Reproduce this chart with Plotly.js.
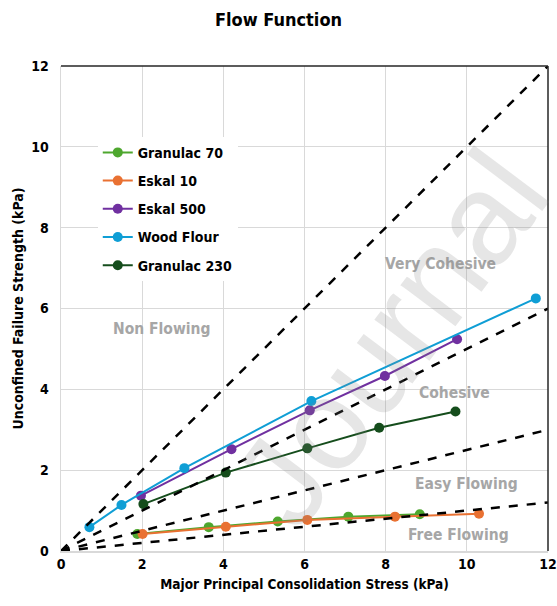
<!DOCTYPE html>
<html><head><meta charset="utf-8">
<script src="https://cdn.plot.ly/plotly-3.0.1.min.js"></script>
<style>html,body{margin:0;padding:0;background:#fff}#chart{width:557px;height:606px}</style>
</head><body><div id="chart"></div>
<script>
const seriesNames = ["Granulac 70", "Eskal 10", "Eskal 500", "Wood Flour", "Granulac 230"];
const seriesColors = ["#4EA72E", "#E97132", "#7030A0", "#0F9ED5", "#154D1C"];
const granulac70X = [1.88, 3.64, 5.34, 7.08, 8.84];
const granulac70Y = [0.42, 0.59, 0.73, 0.85, 0.91];
const eskal10X = [2.01, 4.06, 6.07, 8.23, 10.30];
const eskal10Y = [0.42, 0.60, 0.77, 0.85, 0.92];
const eskal500X = [1.97, 4.20, 6.13, 7.98, 9.76];
const eskal500Y = [1.37, 2.52, 3.48, 4.33, 5.24];
const woodFlourX = [0.70, 1.49, 3.04, 6.17, 11.70];
const woodFlourY = [0.59, 1.14, 2.05, 3.71, 6.25];
const granulac230X = [2.03, 4.06, 6.07, 7.84, 9.72];
const granulac230Y = [1.16, 1.94, 2.54, 3.05, 3.45];
const ffcValues = [1, 2, 4, 10];
const boundaryX = [0, 12];
const regionLabels = ["Non Flowing", "Very Cohesive", "Cohesive", "Easy Flowing", "Free Flowing"];
const regionLabelX = [2.5, 9.35, 9.7, 10.0, 9.8];
const regionLabelY = [5.5, 7.1, 3.9, 1.65, 0.4];

const xs = [granulac70X, eskal10X, eskal500X, woodFlourX, granulac230X];
const ys = [granulac70Y, eskal10Y, eskal500Y, woodFlourY, granulac230Y];
const font = "'Liberation Sans Narrow', 'DejaVu Sans Condensed', 'Liberation Sans', sans-serif";

const traces = [];
seriesNames.forEach((n, i) => {
  traces.push({
    x: xs[i], y: ys[i], name: n, type: "scatter", mode: "lines+markers",
    legendgroup: "g" + i,
    line: {color: seriesColors[i], width: 2},
    marker: {color: seriesColors[i], size: 10}
  });
});
ffcValues.forEach(f => {
  traces.push({
    x: boundaryX, y: boundaryX.map(v => v / f), type: "scatter", mode: "lines",
    showlegend: false, hoverinfo: "skip",
    line: {color: "#000", width: 2.5, dash: "dash"}
  });
});

const annotations = regionLabels.map((t, i) => ({
  x: regionLabelX[i], y: regionLabelY[i], xref: "x", yref: "y", text: t, showarrow: false,
  font: {family: font, size: 15.5, color: "#A6A6A6", weight: "bold"}
}));
annotations.push({
  x: 0.676, y: 0.439, xref: "paper", yref: "paper", xanchor: "center", yanchor: "middle",
  text: "Journal", showarrow: false,
  textangle: -53, font: {family: "'Liberation Sans', sans-serif", size: 130, color: "rgba(128,128,128,0.2)"}
});

const layout = {
  width: 557, height: 606,
  margin: {l: 61, r: 9, t: 66, b: 55},
  paper_bgcolor: "#fff", plot_bgcolor: "#fff",
  title: {text: "<b>Flow Function</b>", x: 0.5, xanchor: "center", y: 0.978, yanchor: "top",
    font: {family: font, size: 18, color: "#000"}},
  font: {family: font, color: "#000"},
  xaxis: {range: [0, 12], dtick: 2, tick0: 0, showgrid: true, gridcolor: "#D9D9D9", gridwidth: 1,
    zeroline: false, showline: true, linecolor: "#D9D9D9", linewidth: 1.5, ticks: "",
    tickfont: {family: font, size: 14, color: "#000", weight: "bold"},
    title: {text: "<b>Major Principal Consolidation Stress (kPa)</b>", standoff: 8,
      font: {family: font, size: 13.5, color: "#000"}}},
  yaxis: {range: [0, 12], dtick: 2, tick0: 0, showgrid: true, gridcolor: "#D9D9D9", gridwidth: 1,
    zeroline: false, showline: true, linecolor: "#D9D9D9", linewidth: 1.5, ticks: "",
    ticklabelstandoff: 8,
    tickfont: {family: font, size: 14, color: "#000", weight: "bold"},
    title: {text: "<b>Unconfined Failure Strength (kPa)</b>", standoff: 4,
      font: {family: font, size: 14, color: "#000"}}},
  legend: {x: 0.0755, y: 0.854, xanchor: "left", yanchor: "top", bgcolor: "#fff",
    tracegroupgap: 7, font: {family: font, size: 14, color: "#000", weight: "bold"}},
  shapes: [
    {type: "line", xref: "paper", yref: "paper", x0: 0, x1: 1, y0: 1, y1: 1, line: {color: "#262626", width: 1.5}},
    {type: "line", xref: "paper", yref: "paper", x0: 1, x1: 1, y0: 0, y1: 1, line: {color: "#262626", width: 1.5}}
  ],
  annotations: annotations,
  showlegend: true
};
Plotly.newPlot("chart", traces, layout, {displayModeBar: false, staticPlot: true});
</script></body></html>
